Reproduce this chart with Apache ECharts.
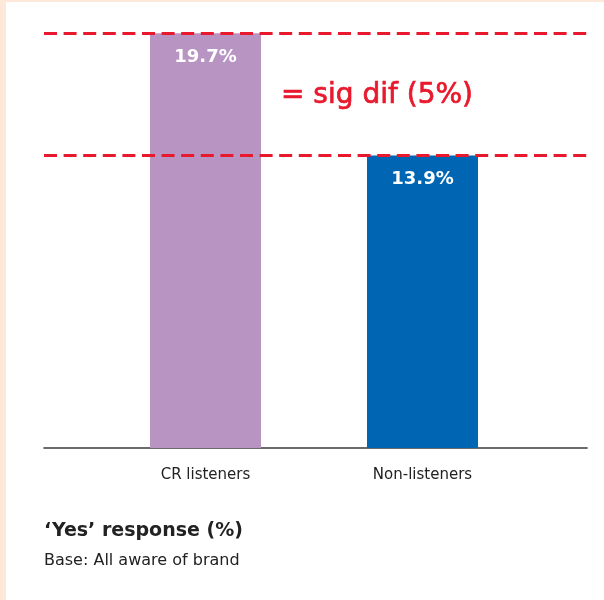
<!DOCTYPE html>
<html>
<head>
<meta charset="utf-8">
<script src="https://cdn.jsdelivr.net/npm/echarts@6/dist/echarts.min.js"></script>
<style>
  html, body { margin: 0; padding: 0; background: #fde8da; }
  #chart { width: 604px; height: 600px; }
</style>
</head>
<body>
<div id="chart"></div>
<script>
// Share answering 'Yes', by listener group
const categories = ['CR listeners', 'Non-listeners'];
const yesShare = [19.7, 13.9];
const barColors = ['#b894c3', '#0066b3'];
// Levels of the significance reference lines
const sigLevels = [19.7, 13.9];
const yMax = 20;

const FONT = '"DejaVu Sans"';
const RED = '#e8192c';

const chart = echarts.init(document.getElementById('chart'), null, { renderer: 'canvas' });

const option = {
  backgroundColor: '#fde8da',
  animation: false,
  graphic: [
    { type: 'rect', z: -10, shape: { x: 6, y: 2, width: 598, height: 598 }, style: { fill: '#ffffff' } },
    { type: 'text', z: 10, style: { text: '= sig dif (5%)', x: 377, y: 96, align: 'center', verticalAlign: 'middle',
        font: 'normal 28px ' + FONT, fill: RED, stroke: RED, lineWidth: 0.7 } },
    { type: 'text', z: 10, style: { text: '\u2018Yes\u2019 response (%)', x: 44, y: 531, verticalAlign: 'middle',
        font: 'bold 19px ' + FONT, fill: '#222222' } },
    { type: 'text', z: 10, style: { text: 'Base: All aware of brand', x: 44, y: 561, verticalAlign: 'middle',
        font: 'normal 16px ' + FONT, fill: '#222222' } }
  ],
  grid: [
    { left: 44, right: 17, top: 27, bottom: 152 },
    { left: 97, right: 73, top: 27, bottom: 152 }
  ],
  xAxis: [
    { gridIndex: 0, type: 'category', data: [''],
      axisLine: { lineStyle: { color: '#3a3a3a', width: 1.6 } },
      axisTick: { show: false }, axisLabel: { show: false } },
    { gridIndex: 1, type: 'category', data: categories,
      axisLine: { show: false }, axisTick: { show: false },
      axisLabel: { margin: 20, fontFamily: FONT, fontSize: 15, color: '#222' } }
  ],
  yAxis: [
    { gridIndex: 0, type: 'value', min: 0, max: yMax, show: false },
    { gridIndex: 1, type: 'value', min: 0, max: yMax, show: false }
  ],
  series: [
    {
      type: 'bar', xAxisIndex: 1, yAxisIndex: 1, barWidth: 111,
      data: yesShare.map((v, i) => ({ value: v, itemStyle: { color: barColors[i] } })),
      label: {
        show: true, position: 'insideTop', distance: 15,
        formatter: p => p.value.toFixed(1) + '%',
        color: '#ffffff', fontFamily: FONT, fontWeight: 'bold', fontSize: 18
      }
    },
    {
      type: 'line', xAxisIndex: 0, yAxisIndex: 0, data: [], z: 5,
      markLine: {
        silent: true, symbol: 'none', label: { show: false },
        lineStyle: { color: RED, width: 3, type: [13, 6.6] },
        data: sigLevels.map(v => ({ yAxis: v }))
      }
    }
  ]
};

chart.setOption(option);
</script>
</body>
</html>
